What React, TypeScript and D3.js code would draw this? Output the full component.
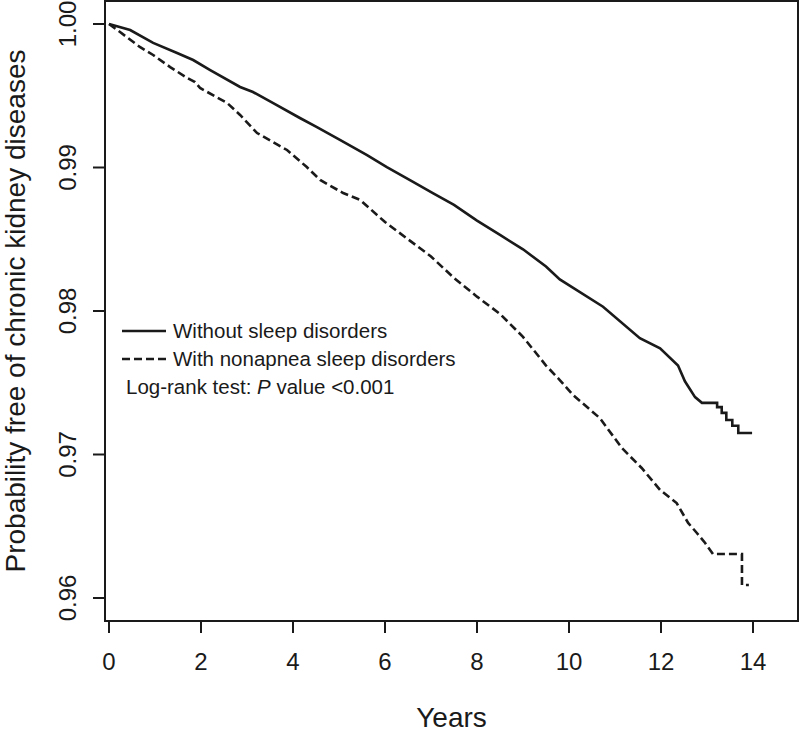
import React from "react";
import * as d3 from "d3";

// Kaplan–Meier style survival estimates
const withoutYears = [0, 0.46, 0.96, 1.48, 1.83, 2.2, 2.85, 3.13, 3.57, 4.15, 4.52, 5.02, 5.61, 6.04, 6.61, 7.04, 7.5, 8.0, 8.5, 9.0, 9.5, 9.8, 10.74, 11.54, 11.98, 12.37, 12.52, 12.74, 12.89, 13.22, 13.22, 13.32, 13.32, 13.42, 13.42, 13.55, 13.55, 13.68, 13.68, 13.98];
const withoutProb = [1.0, 0.99958, 0.99868, 0.99798, 0.99749, 0.99679, 0.99561, 0.99526, 0.99449, 0.99345, 0.99282, 0.99192, 0.99087, 0.99003, 0.98899, 0.98822, 0.9874, 0.9863, 0.9853, 0.9843, 0.9831, 0.9822, 0.9803, 0.9781, 0.9774, 0.9762, 0.9751, 0.974, 0.9736, 0.9736, 0.9733, 0.9733, 0.9729, 0.9729, 0.9724, 0.9724, 0.972, 0.972, 0.9715, 0.9715];

const nonapneaYears = [0, 0.24, 0.67, 0.96, 1.33, 1.7, 1.87, 1.98, 2.57, 2.85, 3.22, 3.87, 4.3, 4.59, 5.09, 5.46, 6.0, 6.5, 7.0, 7.5, 8.0, 8.5, 9.0, 9.5, 9.8, 10.09, 10.67, 11.15, 11.58, 11.98, 12.34, 12.59, 12.78, 12.96, 13.13, 13.76, 13.76, 13.91];
const nonapneaProb = [1.0, 0.99944, 0.9984, 0.99784, 0.997, 0.99624, 0.99596, 0.99554, 0.99449, 0.99366, 0.9924, 0.99122, 0.99003, 0.98913, 0.98822, 0.98774, 0.9862, 0.985, 0.9838, 0.9823, 0.981, 0.9798, 0.9782, 0.9762, 0.97519, 0.97414, 0.97254, 0.97045, 0.96906, 0.96753, 0.96662, 0.96523, 0.96453, 0.96383, 0.96307, 0.96307, 0.96091, 0.96091];

const xTicks = [0, 2, 4, 6, 8, 10, 12, 14];
const yTicks = [0.96, 0.97, 0.98, 0.99, 1.0];
const yTickLabels = ["0.96", "0.97", "0.98", "0.99", "1.00"];

const legendLabels = ["Without sleep disorders", "With nonapnea sleep disorders"];

const FONT = "'Liberation Sans', Arial, Helvetica, sans-serif";
const INK = "#1a1a1a";

export default function App() {
  const box = { left: 105, top: 1, right: 798, bottom: 621 };
  const x = d3.scaleLinear().domain([0, 14]).range([109, 753]);
  const y = d3.scaleLinear().domain([0.96, 1.0]).range([598, 24]);

  const line = d3
    .line<[number, number]>()
    .x((d) => x(d[0]))
    .y((d) => y(d[1]))
    .curve(d3.curveLinear);

  const solid = withoutYears.map((t, i) => [t, withoutProb[i]] as [number, number]);
  const dashed = nonapneaYears.map((t, i) => [t, nonapneaProb[i]] as [number, number]);

  const legY = [331, 359];

  return (
    <svg
      width={800}
      height={732}
      style={{ position: "absolute", left: 0, top: 0, background: "#fff" }}
      fontFamily={FONT}
    >
      <rect x={0} y={0} width={800} height={732} fill="#fff" />
      {/* plot box */}
      <rect
        x={box.left}
        y={box.top}
        width={box.right - box.left}
        height={box.bottom - box.top}
        fill="none"
        stroke={INK}
        strokeWidth={2}
      />
      {/* curves */}
      <path d={line(solid) || ""} fill="none" stroke={INK} strokeWidth={2.6} />
      <path
        d={line(dashed) || ""}
        fill="none"
        stroke={INK}
        strokeWidth={2.6}
        strokeDasharray="8,4"
      />
      {/* x axis */}
      {xTicks.map((t) => (
        <g key={"x" + t}>
          <line x1={x(t)} x2={x(t)} y1={box.bottom} y2={box.bottom + 12} stroke={INK} strokeWidth={2} />
          <text x={x(t)} y={box.bottom + 49} fontSize={24} textAnchor="middle" fill={INK}>
            {t}
          </text>
        </g>
      ))}
      {/* y axis */}
      {yTicks.map((v, i) => (
        <g key={"y" + v}>
          <line x1={box.left - 12} x2={box.left} y1={y(v)} y2={y(v)} stroke={INK} strokeWidth={2} />
          <text
            transform={`translate(${box.left - 29},${y(v)}) rotate(-90)`}
            fontSize={24}
            textAnchor="middle"
            fill={INK}
          >
            {yTickLabels[i]}
          </text>
        </g>
      ))}
      {/* axis titles */}
      <text x={(box.left + box.right) / 2} y={727} fontSize={28} textAnchor="middle" fill={INK}>
        Years
      </text>
      <text
        transform={`translate(25,${(box.top + box.bottom) / 2}) rotate(-90)`}
        fontSize={28}
        textAnchor="middle"
        fill={INK}
      >
        Probability free of chronic kidney diseases
      </text>
      {/* legend */}
      <line x1={122} x2={166} y1={legY[0]} y2={legY[0]} stroke={INK} strokeWidth={2.6} />
      <line x1={122} x2={166} y1={legY[1]} y2={legY[1]} stroke={INK} strokeWidth={2.6} strokeDasharray="8,4" />
      <text x={173} y={legY[0] + 7} fontSize={20.5} fill={INK}>
        {legendLabels[0]}
      </text>
      <text x={173} y={legY[1] + 7} fontSize={20.5} fill={INK}>
        {legendLabels[1]}
      </text>
      <text x={126} y={394} fontSize={20.5} fill={INK}>
        Log-rank test: <tspan fontStyle="italic">P</tspan> value &lt;0.001
      </text>
    </svg>
  );
}
